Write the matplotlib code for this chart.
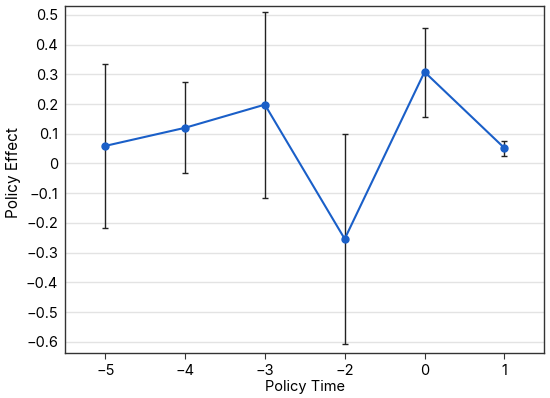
import matplotlib
matplotlib.use("Agg")
import matplotlib.pyplot as plt

plt.rcParams['font.family'] = ['Inter', 'DejaVu Sans']

# policy time categories and estimated effects
time_labels = ["\u22125", "\u22124", "\u22123", "\u22122", "0", "1"]
effect = [0.059, 0.120, 0.198, -0.254, 0.308, 0.052]
upper = [0.335, 0.273, 0.511, 0.099, 0.456, 0.076]
lower = [-0.217, -0.033, -0.115, -0.607, 0.157, 0.025]

yticks = [0.5, 0.4, 0.3, 0.2, 0.1, 0, -0.1, -0.2, -0.3, -0.4, -0.5, -0.6]
ytick_labels = ["0.5", "0.4", "0.3", "0.2", "0.1", "0", "\u22120.1", "\u22120.2",
                "\u22120.3", "\u22120.4", "\u22120.5", "\u22120.6"]

x = list(range(len(time_labels)))
err_lo = [e - l for e, l in zip(effect, lower)]
err_hi = [u - e for e, u in zip(effect, upper)]

fig = plt.figure(figsize=(5.5, 3.98), dpi=100)
ax = fig.add_axes([0.1187, 0.1138, 0.8709, 0.8719])

ax.yaxis.grid(True, color='#e3e3e3', linewidth=1.0)
ax.set_axisbelow(True)

ax.errorbar(x, effect, yerr=[err_lo, err_hi], fmt='none', ecolor='#222222',
            elinewidth=1.0, capsize=2.5, capthick=1.0, zorder=2)
ax.plot(x, effect, color='#1a5fc8', linewidth=1.5, marker='o',
        markersize=5, zorder=3)

ax.set_xlim(-0.5, 5.5)
ax.set_ylim(-0.637, 0.531)
ax.set_xticks(x)
ax.set_xticklabels(time_labels)
ax.set_yticks(yticks)
ax.set_yticklabels(ytick_labels)

for s in ax.spines.values():
    s.set_color('#333333')
    s.set_linewidth(1.0)
ax.tick_params(axis='x', length=4, color='#333333', labelsize=10.5, pad=4)
ax.tick_params(axis='y', length=0, labelsize=10.5, pad=5)

ax.set_xlabel("Policy Time", fontsize=10.5, labelpad=1.5)
ax.set_ylabel("Policy Effect", fontsize=11)
ax.yaxis.set_label_coords(-0.093, 0.52)

fig.savefig("out.png", dpi=100)
